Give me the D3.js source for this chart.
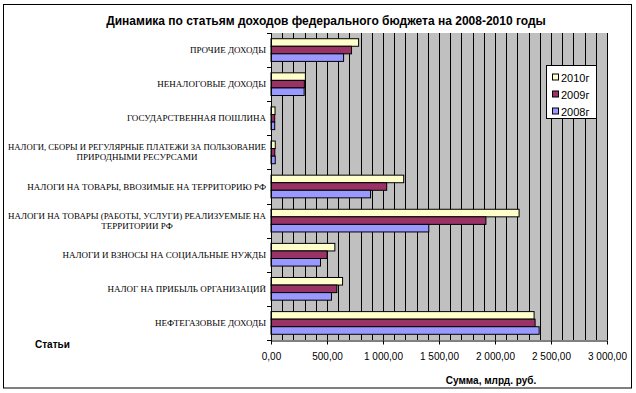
<!DOCTYPE html>
<html>
<head>
<meta charset="utf-8">
<script src="https://cdn.jsdelivr.net/npm/d3@7"></script>
<style>
  body { margin: 0; background: #fff; }
  svg { display: block; }
</style>
</head>
<body>
<div id="chart"></div>
<script>
// Categories, top to bottom (each may be split into lines)
const categories = [
  ['ПРОЧИЕ ДОХОДЫ'],
  ['НЕНАЛОГОВЫЕ ДОХОДЫ'],
  ['ГОСУДАРСТВЕННАЯ ПОШЛИНА'],
  ['НАЛОГИ, СБОРЫ И РЕГУЛЯРНЫЕ ПЛАТЕЖИ ЗА ПОЛЬЗОВАНИЕ', 'ПРИРОДНЫМИ РЕСУРСАМИ'],
  ['НАЛОГИ НА ТОВАРЫ, ВВОЗИМЫЕ НА ТЕРРИТОРИЮ РФ'],
  ['НАЛОГИ НА ТОВАРЫ (РАБОТЫ, УСЛУГИ) РЕАЛИЗУЕМЫЕ НА', 'ТЕРРИТОРИИ РФ'],
  ['НАЛОГИ И ВЗНОСЫ НА СОЦИАЛЬНЫЕ НУЖДЫ'],
  ['НАЛОГ НА ПРИБЫЛЬ ОРГАНИЗАЦИЙ'],
  ['НЕФТЕГАЗОВЫЕ ДОХОДЫ'],
];

const values2010 = [782, 307, 36, 38, 1185, 2215, 570, 639, 2349];
const values2009 = [719, 298, 33, 34, 1033, 1919, 501, 588, 2358];
const values2008 = [648, 296, 33, 38, 889, 1409, 442, 540, 2394];

const seriesNames = ['2010г', '2009г', '2008г'];
const seriesColors = ['#FFFFCC', '#993366', '#9999FF'];
const xTicks = [0, 500, 1000, 1500, 2000, 2500, 3000];

const W = 636, H = 393;
const plot = { left: 271, right: 607, top: 33, bottom: 340 };
const sans = 'Arial, "Liberation Sans", sans-serif';

const svg = d3.select('#chart').append('svg')
  .attr('width', W).attr('height', H);

// outer chart border
svg.append('rect')
  .attr('x', 3.5).attr('y', 4.5)
  .attr('width', 628).attr('height', 383.5)
  .attr('fill', '#fff').attr('stroke', '#000').attr('stroke-width', 1);

svg.append('text')
  .attr('x', 326).attr('y', 25)
  .attr('text-anchor', 'middle')
  .attr('font-family', sans)
  .attr('font-weight', 'bold').attr('font-size', '12px')
  .text('Динамика по статьям доходов федерального бюджета на 2008-2010 годы');

const x = d3.scaleLinear().domain([0, 3000]).range([plot.left, plot.right]);
const y = d3.scaleBand()
  .domain(d3.range(categories.length))
  .range([plot.top, plot.bottom])
  .paddingInner(0.335).paddingOuter(0.1675);
const ySeries = d3.scaleBand().domain(d3.range(3)).range([0, y.bandwidth()]);

// plot background
svg.append('rect')
  .attr('x', plot.left).attr('y', plot.top)
  .attr('width', plot.right - plot.left).attr('height', plot.bottom - plot.top)
  .attr('fill', '#C0C0C0');

// vertical gridlines every 100
svg.append('g').selectAll('line')
  .data(d3.range(100, 3001, 100))
  .join('line')
  .attr('x1', d => Math.round(x(d)) + 0.5).attr('x2', d => Math.round(x(d)) + 0.5)
  .attr('y1', plot.top).attr('y2', plot.bottom)
  .attr('stroke', '#000').attr('stroke-width', 1);

// bars
const series = [values2010, values2009, values2008];
const groups = svg.append('g').selectAll('g')
  .data(categories.map((c, i) => i))
  .join('g')
  .attr('transform', i => `translate(0,${y(i)})`);

groups.selectAll('rect')
  .data(i => series.map((s, k) => ({ k, v: s[i] })))
  .join('rect')
  .attr('x', x(0))
  .attr('y', d => ySeries(d.k))
  .attr('width', d => x(d.v) - x(0))
  .attr('height', ySeries.bandwidth())
  .attr('fill', d => seriesColors[d.k])
  .attr('stroke', '#000').attr('stroke-width', 1);

// x axis
const xAxis = svg.append('g')
  .attr('transform', `translate(0,${plot.bottom + 0.5})`)
  .call(d3.axisBottom(x).tickValues(xTicks).tickSizeInner(4).tickSizeOuter(0)
    .tickFormat(d => d3.format(',.2f')(d).replace(',', ' ').replace('.', ',')));
xAxis.select('.domain').attr('stroke', '#000');
xAxis.selectAll('text')
  .attr('font-family', sans)
  .attr('font-size', '10px').attr('fill', '#000').attr('dy', '1.2em');

// y axis line and ticks at category boundaries
svg.append('line')
  .attr('x1', plot.left + 0.5).attr('x2', plot.left + 0.5)
  .attr('y1', plot.top).attr('y2', plot.bottom + 1)
  .attr('stroke', '#000');
svg.append('g').selectAll('line')
  .data(d3.range(categories.length + 1))
  .join('line')
  .attr('x1', plot.left - 4).attr('x2', plot.left)
  .attr('y1', i => Math.round(plot.top + i * y.step()) + 0.5)
  .attr('y2', i => Math.round(plot.top + i * y.step()) + 0.5)
  .attr('stroke', '#000');

// category labels (condensed to fit like the original)
const labelFont = '"Liberation Serif", "Times New Roman", serif';
const maxLabel = 258;
const labels = svg.append('g').selectAll('text')
  .data(categories)
  .join('text')
  .attr('font-family', labelFont)
  .attr('font-size', '9px')
  .attr('fill', '#000');
labels.each(function (lines, i) {
  const t = d3.select(this);
  const cy = y(i) + y.bandwidth() / 2;
  const first = t.append('tspan').text(lines[0]);
  let w = first.node().getComputedTextLength();
  if (w > maxLabel) {
    first.attr('textLength', maxLabel).attr('lengthAdjust', 'spacingAndGlyphs');
    w = maxLabel;
  }
  if (lines.length === 1) {
    t.attr('text-anchor', 'end');
    first.attr('x', 266).attr('y', cy + 3);
  } else {
    const cx = 266 - w / 2;
    t.attr('text-anchor', 'middle');
    first.attr('x', cx).attr('y', cy - 2);
    t.append('tspan').attr('x', cx).attr('y', cy + 8).text(lines[1]);
  }
});

// axis titles
svg.append('text')
  .attr('x', 35).attr('y', 348)
  .attr('font-family', sans)
  .attr('font-weight', 'bold').attr('font-size', '10px')
  .text('Статьи');
svg.append('text')
  .attr('x', 491).attr('y', 384)
  .attr('text-anchor', 'middle')
  .attr('font-family', sans)
  .attr('font-weight', 'bold').attr('font-size', '10px')
  .text('Сумма, млрд. руб.');

// legend
const legend = svg.append('g').attr('transform', 'translate(546.5,65.5)');
legend.append('rect')
  .attr('width', 50).attr('height', 53)
  .attr('fill', '#fff').attr('stroke', '#000');
const items = legend.selectAll('g.item')
  .data(seriesNames)
  .join('g').attr('class', 'item')
  .attr('transform', (d, i) => `translate(6,${12 + i * 17})`);
items.append('rect')
  .attr('x', 0).attr('y', -3.5)
  .attr('width', 6).attr('height', 6)
  .attr('fill', (d, i) => seriesColors[i]).attr('stroke', '#000');
items.append('text')
  .attr('x', 8.5).attr('y', 4)
  .attr('font-family', sans)
  .attr('font-size', '11px')
  .text(d => d);
</script>
</body>
</html>
